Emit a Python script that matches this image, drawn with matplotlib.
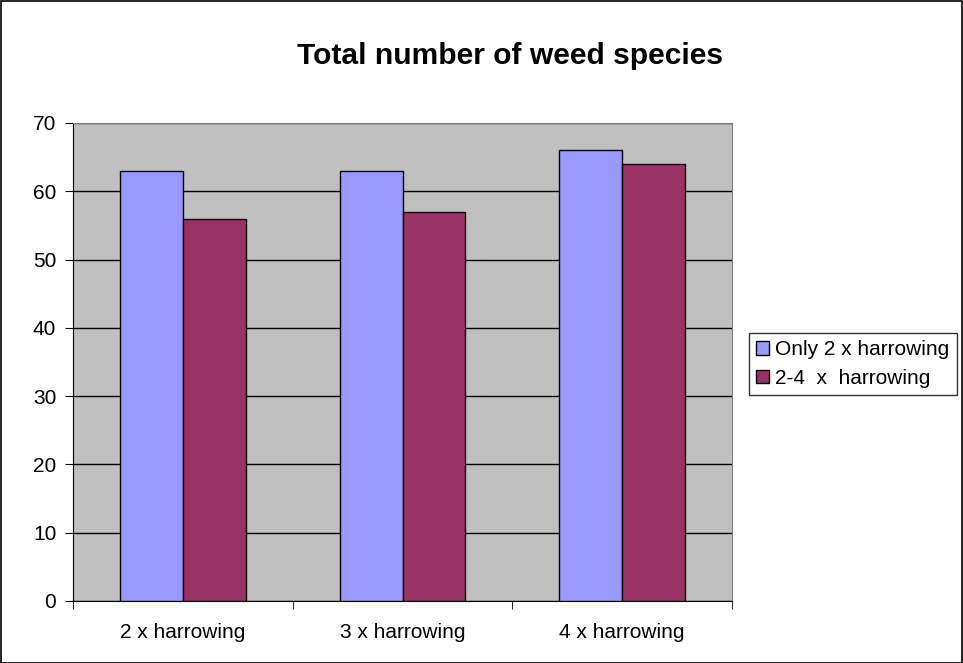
import matplotlib
matplotlib.use("Agg")
import matplotlib.pyplot as plt
import numpy as np
from matplotlib.patches import Rectangle

categories = ["2 x harrowing", "3 x harrowing", "4 x harrowing"]
series_names = ["Only 2 x harrowing", "2-4  x  harrowing"]
only2 = [63, 63, 66]
two_to_four = [56, 57, 64]
yticks = [0, 10, 20, 30, 40, 50, 60, 70]

plt.rcParams['font.family'] = ['Liberation Sans', 'DejaVu Sans']

W, H = 963, 663
fig = plt.figure(figsize=(W / 100, H / 100), dpi=100)
ax = fig.add_axes([73 / W, (H - 601) / H, (732 - 73) / W, (601 - 123) / H])
ax.set_facecolor("#C0C0C0")

x = np.arange(len(categories))
w = 1 / 3.5
ax.bar(x - w / 2, only2, width=w, color="#9999FF", edgecolor="black", linewidth=1, label=series_names[0], zorder=3)
ax.bar(x + w / 2, two_to_four, width=w, color="#993366", edgecolor="black", linewidth=1, label=series_names[1], zorder=3)

ax.set_xlim(-0.5, len(categories) - 0.5)
ax.set_ylim(0, 70)
ax.set_yticks(yticks)
ax.set_yticklabels([str(v) for v in yticks], fontsize=15)
ax.yaxis.grid(True, color="black", linewidth=1, zorder=1)
ax.set_axisbelow(True)

ax.set_xticks(x)
ax.set_xticklabels(categories, fontsize=15)
ax.tick_params(axis="x", which="major", length=0, pad=16)
ax.set_xticks(np.arange(-0.5, len(categories), 1), minor=True)
ax.tick_params(axis="x", which="minor", length=6, direction="out", color="black")
ax.tick_params(axis="y", length=6, direction="out", color="black", pad=6)

for s in ["top", "right"]:
    ax.spines[s].set_color("#808080")
for s in ["left", "bottom"]:
    ax.spines[s].set_color("black")

fig.text(510 / W, 1 - 56 / H, "Total number of weed species", ha="center", va="center",
         fontsize=21.6, fontweight="bold")

leg = fig.legend(loc="upper left", bbox_to_anchor=(749 / W, 1 - 333 / H),
                 fontsize=15, frameon=True, fancybox=False, edgecolor="black",
                 handlelength=0.6, handleheight=0.6, handletextpad=0.3,
                 borderpad=0.35, labelspacing=0.45, borderaxespad=0)
leg.get_frame().set_linewidth(1)

fig.patches.append(Rectangle((0.5 / W, 0.5 / H), 1 - 1.5 / W, 1 - 1.5 / H, transform=fig.transFigure,
                             fill=False, edgecolor="black", linewidth=1.2))

fig.savefig("out.png", dpi=100, facecolor="white")
